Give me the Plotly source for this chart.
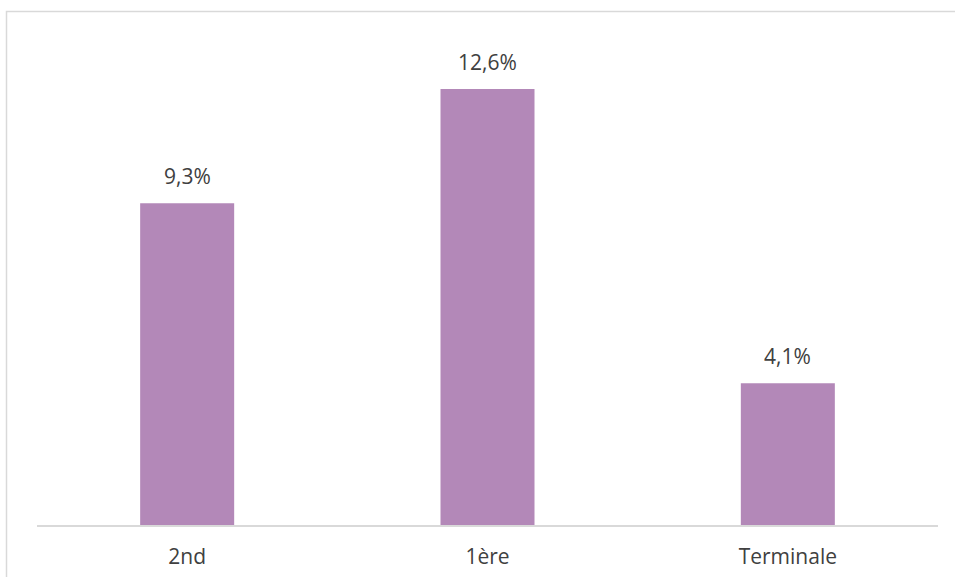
import plotly.graph_objects as go

categories = ["2nd", "1ère", "Terminale"]
values = [9.3, 12.6, 4.1]
labels = [f"{v:.1f}".replace(".", ",") + "%" for v in values]

W, H = 955, 577
ml, mr, mt, mb = 37, 17, 12, 52
plot_w = W - ml - mr
plot_h = H - mt - mb
FONT = "Open Sans, Liberation Sans, sans-serif"

fig = go.Figure(go.Bar(
    x=categories, y=values,
    marker=dict(color="#B388B8", line=dict(width=0)),
    width=0.313,
))

for c, v, t in zip(categories, values, labels):
    fig.add_annotation(x=c, y=v, text=t, showarrow=False, yanchor="bottom", yshift=11,
                       font=dict(family=FONT, size=21, color="#404040"))

fig.update_layout(
    width=W, height=H,
    margin=dict(l=ml, r=mr, t=mt, b=mb, autoexpand=False),
    paper_bgcolor="white", plot_bgcolor="white",
    showlegend=False,
    xaxis=dict(showline=True, linecolor="#d9d9d9", linewidth=1.5, ticks="",
               ticklabelstandoff=12, automargin=False,
               tickfont=dict(family=FONT, size=21, color="#404040"),
               showgrid=False),
    yaxis=dict(range=[0, plot_h / 34.6], visible=False, showgrid=False, automargin=False),
    shapes=[dict(type="rect", xref="paper", yref="paper",
                 x0=(6.5 - ml) / plot_w, x1=(W + 5 - ml) / plot_w,
                 y0=-(mb + 5) / plot_h, y1=(H - mb - 11.5) / plot_h,
                 line=dict(color="#d9d9d9", width=1.5))],
)

fig.write_html("out.html", config={"displayModeBar": False},
               post_script="document.body.style.margin='0';document.body.style.overflow='hidden';")
